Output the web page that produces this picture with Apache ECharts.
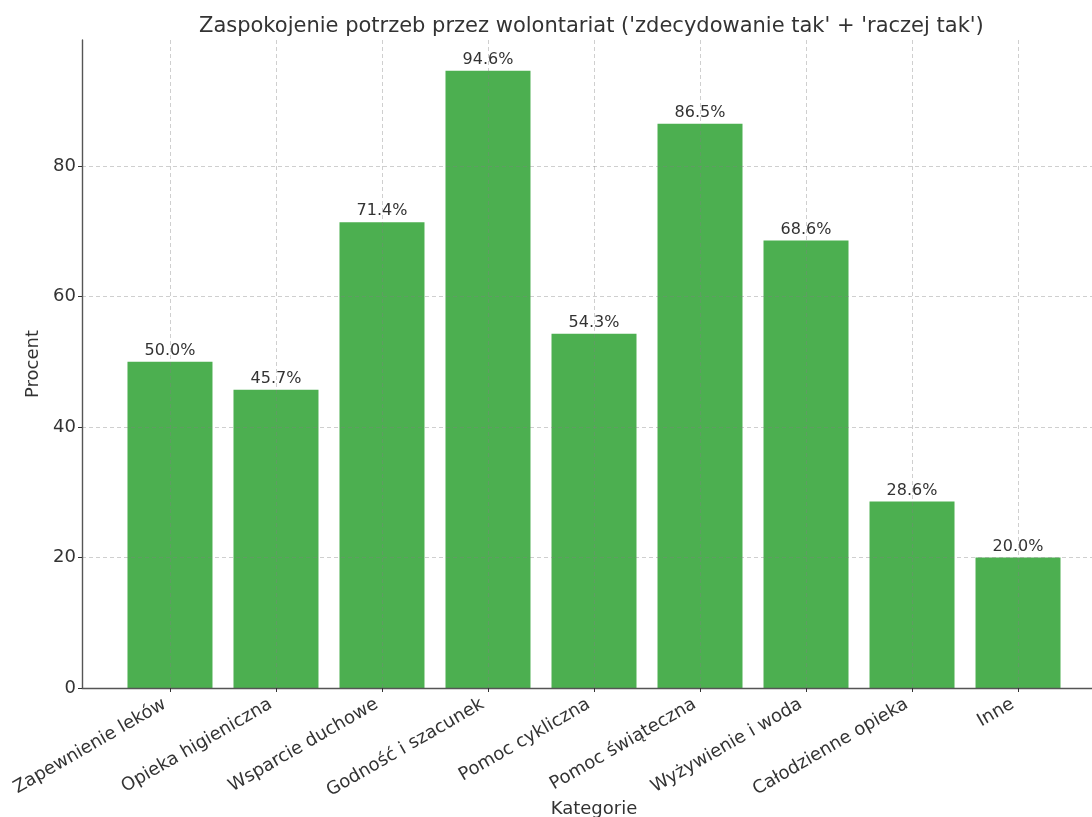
<!DOCTYPE html>
<html>
<head>
<meta charset="utf-8">
<script src="https://cdn.jsdelivr.net/npm/echarts@6.0.0/dist/echarts.min.js"></script>
<style>html,body{margin:0;padding:0;background:#fff}#c{width:1092px;height:817px}</style>
</head>
<body>
<div id="c"></div>
<script>
const categories = ['Zapewnienie leków','Opieka higieniczna','Wsparcie duchowe','Godność i szacunek','Pomoc cykliczna','Pomoc świąteczna','Wyżywienie i woda','Całodzienne opieka','Inne'];
const values = [50.0, 45.7, 71.4, 94.6, 54.3, 86.5, 68.6, 28.6, 20.0];
const yTicks = [0, 20, 40, 60, 80];
const titleText = "Zaspokojenie potrzeb przez wolontariat ('zdecydowanie tak' + 'raczej tak')";

const font = 'DejaVu Sans';
const idx = categories.map((c, i) => i);
const chart = echarts.init(document.getElementById('c'), null, {renderer: 'canvas'});
const gridLine = {show: true, lineStyle: {color: 'rgba(128,128,128,0.42)', type: [4, 3], width: 0.9}};
chart.setOption({
  animation: false,
  backgroundColor: '#fff',
  title: {
    text: titleText, left: 194, top: 11,
    textStyle: {fontFamily: font, fontSize: 21, fontWeight: 'normal', color: '#333'}
  },
  grid: {left: 82, right: -14, top: 40, bottom: 129, containLabel: false, outerBoundsMode: 'none'},
  xAxis: {
    type: 'value', min: -0.83, max: 8.83, z: 10,
    name: 'Kategorie', nameLocation: 'middle', nameGap: 112, nameMoveOverlap: false,
    nameTextStyle: {fontFamily: font, fontSize: 18, color: '#333'},
    axisLine: {show: true, onZero: false, lineStyle: {color: '#555', width: 1.4}},
    axisTick: {show: true, customValues: idx, length: 4, lineStyle: {color: '#333'}},
    axisLabel: {customValues: idx, formatter: v => categories[Math.round(v)], rotate: 30, margin: 12,
      padding: [0, 6, 0, 0], fontFamily: font, fontSize: 18, color: '#333'},
    splitLine: gridLine
  },
  yAxis: {
    type: 'value', min: 0, max: 99.33, z: 10,
    name: 'Procent', nameLocation: 'middle', nameGap: 38, nameRotate: 90,
    nameTextStyle: {fontFamily: font, fontSize: 18, color: '#333'},
    axisLine: {show: true, onZero: false, lineStyle: {color: '#555', width: 1.4}},
    axisTick: {show: true, customValues: yTicks, length: 4, lineStyle: {color: '#333'}},
    axisLabel: {customValues: yTicks, margin: 6, fontFamily: font, fontSize: 18, color: '#333'},
    splitLine: gridLine
  },
  series: [{
    type: 'bar',
    data: values.map((v, i) => [i, v]),
    barWidth: 85,
    itemStyle: {color: '#4CAF50'},
    label: {show: true, position: 'top', distance: 3, formatter: p => p.value[1].toFixed(1) + '%',
      fontFamily: font, fontSize: 16, color: '#333'}
  }]
});
</script>
</body>
</html>
